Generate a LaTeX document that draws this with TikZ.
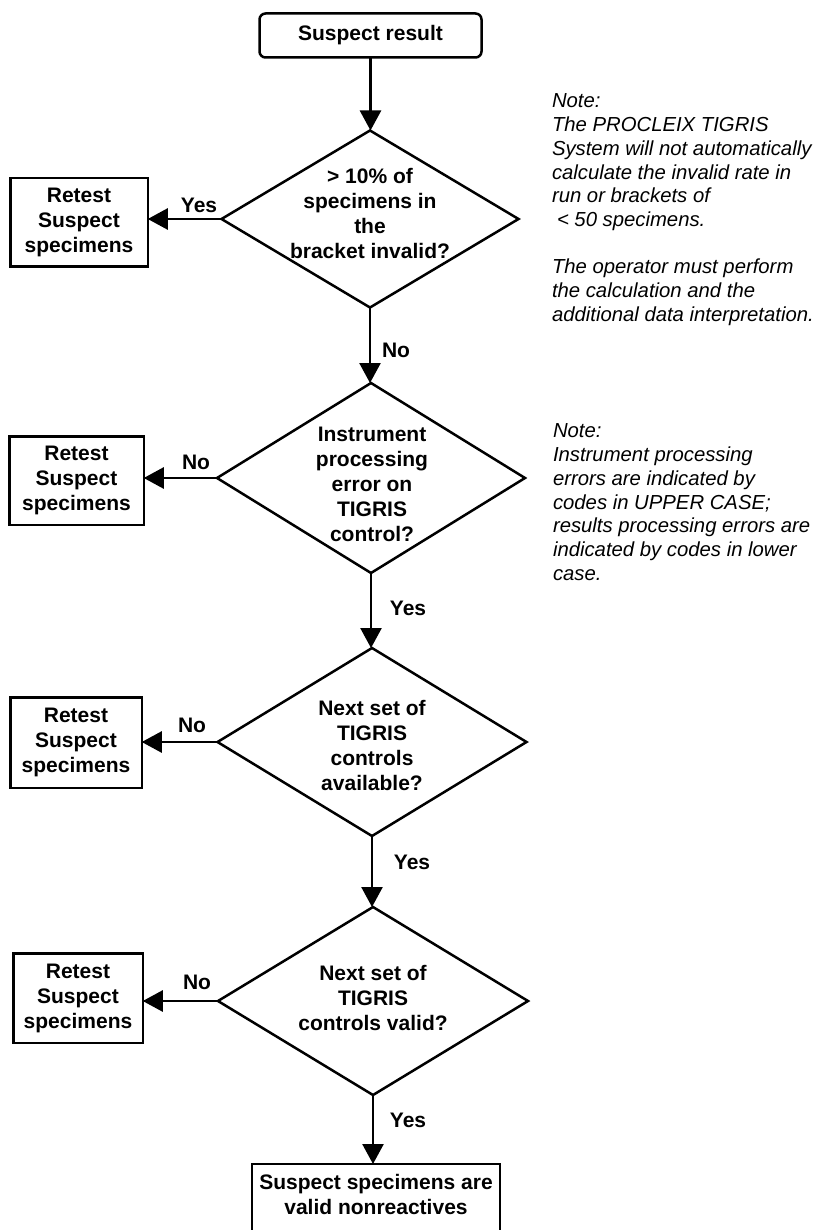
\documentclass[tikz,border=0pt]{standalone}
\usepackage{fontspec}
\setmainfont{Liberation Sans}
\usetikzlibrary{arrows.meta,shapes.geometric}
\begin{document}
\begin{tikzpicture}[x=1pt,y=-1pt,
  every node/.style={inner sep=0pt, outer sep=0pt},
  flow/.style={font=\bfseries\fontsize{21}{25}\selectfont, align=center},
  boxnode/.style={flow, draw, line width=2.5pt, rectangle},
  decision/.style={draw, line width=2.5pt, diamond},
  lbl/.style={font=\bfseries\fontsize{21}{25}\selectfont},
  note/.style={font=\itshape\fontsize{20.3}{23.7}\selectfont, align=left, anchor=north west},
  arr/.style={line width=2.5pt, -{Triangle[length=20pt,width=21pt]}}
]
\useasboundingbox (0,0) rectangle (819,1230);

% start
\node[boxnode, rounded corners=6pt, minimum width=222pt, minimum height=44pt] (top) at (370.5,35.5) {Suspect result};

% decision 1
\node[decision, minimum width=297pt, minimum height=177pt] (d1) at (370,219) {};
\node[flow] (t1) at (370,213) {> 10\% of\\specimens in\\the\\bracket invalid?};
\node[boxnode, minimum width=137.5pt, minimum height=88.5pt] (r1) at (79,222.5) {Retest\\Suspect\\specimens};

% decision 2
\node[decision, minimum width=308pt, minimum height=190pt] (d2) at (371,478) {};
\node[flow] (t2) at (372,484) {Instrument\\processing\\error on\\TIGRIS\\control?};
\node[boxnode, minimum width=134.5pt, minimum height=88.5pt] (r2) at (76.5,480.5) {Retest\\Suspect\\specimens};

% decision 3
\node[decision, minimum width=309pt, minimum height=188pt] (d3) at (372,742) {};
\node[flow] (t3) at (372,745) {Next set of\\TIGRIS\\controls\\available?};
\node[boxnode, minimum width=131.5pt, minimum height=90.5pt] (r3) at (76,742.5) {Retest\\Suspect\\specimens};

% decision 4
\node[decision, minimum width=310pt, minimum height=188pt] (d4) at (373,1001) {};
\node[flow] (t4) at (373,998) {Next set of\\TIGRIS\\controls valid?};
\node[boxnode, minimum width=129.5pt, minimum height=89.5pt] (r4) at (78,998) {Retest\\Suspect\\specimens};

% end
\node[boxnode, anchor=north, minimum width=248pt, inner ysep=10pt, text depth=60pt] (fin) at (376,1164) {Suspect specimens are\\valid nonreactives};

% connectors
\draw[arr] (top.south) -- (top.south |- d1.north);
\draw[arr] (d1.west) -- (d1.west -| r1.east);
\draw[arr] (d1.south) -- (d1.south |- d2.north);
\draw[arr] (d2.west) -- (d2.west -| r2.east);
\draw[arr] (d2.south) -- (d2.south |- d3.north);
\draw[arr] (d3.west) -- (d3.west -| r3.east);
\draw[arr] (d3.south) -- (d3.south |- d4.north);
\draw[arr] (d4.west) -- (d4.west -| r4.east);
\draw[arr] (d4.south) -- (d4.south |- fin.north);

% connector labels
\node[lbl] (l1) at (199,205) {Yes};
\node[lbl] (l2) at (396,350) {No};
\node[lbl] (l3) at (196,462) {No};
\node[lbl] (l4) at (408,608) {Yes};
\node[lbl] (l5) at (192,725) {No};
\node[lbl] (l6) at (412,862) {Yes};
\node[lbl] (l7) at (197,982) {No};
\node[lbl] (l8) at (408,1120) {Yes};

% notes
\node[note] (n1) at (552,94) {Note:\\The PROCLEIX TIGRIS\\System will not automatically\\calculate the invalid rate in\\run or brackets of\\\hspace*{5pt}< 50 specimens.\\[23.7pt]The operator must perform\\the calculation and the\\additional data interpretation.};
\node[note] (n2) at (553,424) {Note:\\Instrument processing\\errors are indicated by\\codes in UPPER CASE;\\results processing errors are\\indicated by codes in lower\\case.};
\end{tikzpicture}
\end{document}
